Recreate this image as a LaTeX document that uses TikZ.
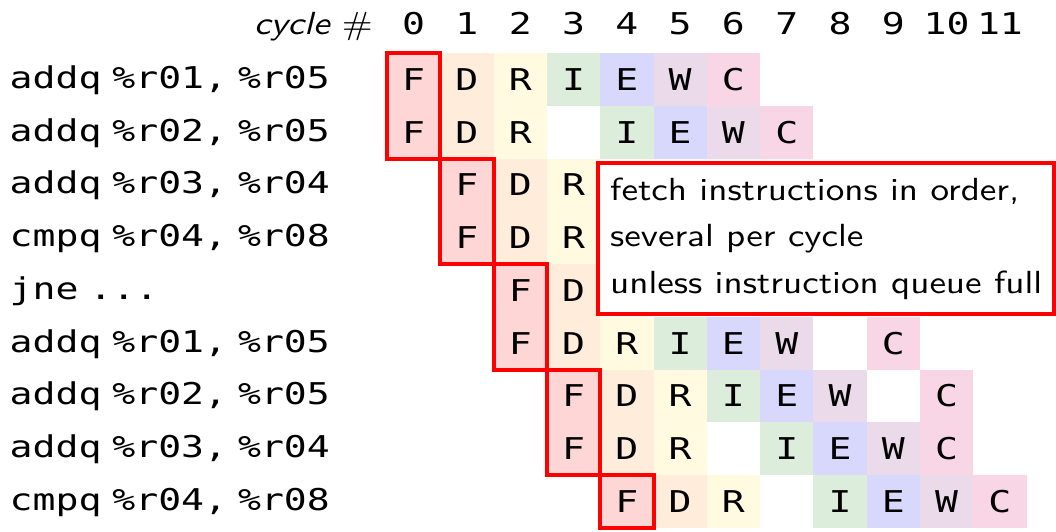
\documentclass[tikz,border=0pt]{standalone}
\usepackage{fontspec}
\newfontfamily\mono[FakeStretch=1.27]{DejaVu Sans Mono}
\newfontfamily\lmss{lmsans10-regular.otf}[ItalicFont=lmsans10-oblique.otf, FakeStretch=1.16]
\definecolor{stF}{RGB}{255,214,214}
\definecolor{stD}{RGB}{255,236,218}
\definecolor{stR}{RGB}{255,250,224}
\definecolor{stI}{RGB}{220,237,220}
\definecolor{stE}{RGB}{216,216,252}
\definecolor{stW}{RGB}{234,218,234}
\definecolor{stC}{RGB}{249,214,230}
\newcommand\monofont{\mono\fontsize{30}{36}\selectfont}
\newcommand\sansfont{\lmss\fontsize{32}{38}\selectfont}
\newcommand\isp{\hspace{11pt}}
\begin{document}
\begin{tikzpicture}[x=1pt,y=-1pt,
  cell/.style={minimum width=53.3pt, minimum height=52.75pt, inner sep=0pt, outer sep=0pt, font=\monofont},
  hdr/.style={anchor=base, inner sep=0pt, font=\monofont},
  instr/.style={anchor=base west, inner sep=0pt, font=\monofont},
  fetchbox/.style={draw=red, line width=4pt},
  note/.style={draw=red, line width=4pt, fill=white, minimum width=456pt, minimum height=151pt, inner sep=0pt},
  notetext/.style={anchor=base west, inner sep=0pt, font=\sansfont}]
\useasboundingbox (0,0) rectangle (1056,531);
% header
\node[anchor=base east, inner sep=0pt, font=\sansfont] (cyc) at (373,34) {\itshape cycle\ \upshape\#};
\foreach \c in {0,...,11} \node[hdr] (h\c) at ({413.65+53.3*\c},34) {\c};
% instructions
\foreach \r/\t in {0/{addq\isp\%r01,\isp\%r05}, 1/{addq\isp\%r02,\isp\%r05}, 2/{addq\isp\%r03,\isp\%r04},
  3/{cmpq\isp\%r04,\isp\%r08}, 4/{jne\isp...}, 5/{addq\isp\%r01,\isp\%r05}, 6/{addq\isp\%r02,\isp\%r05},
  7/{addq\isp\%r03,\isp\%r04}, 8/{cmpq\isp\%r04,\isp\%r08}}
  \node[instr] (i\r) at (9.5,{88.4+52.75*\r}) {\t};
% pipeline cells
\foreach \r/\spec in {
  0/{0/F,1/D,2/R,3/I,4/E,5/W,6/C},
  1/{0/F,1/D,2/R,4/I,5/E,6/W,7/C},
  2/{1/F,2/D,3/R},
  3/{1/F,2/D,3/R},
  4/{2/F,3/D},
  5/{2/F,3/D,4/R,5/I,6/E,7/W,9/C},
  6/{3/F,4/D,5/R,6/I,7/E,8/W,10/C},
  7/{3/F,4/D,5/R,7/I,8/E,9/W,10/C},
  8/{4/F,5/D,6/R,8/I,9/E,10/W,11/C}}
  \foreach \c/\L in \spec
    \node[cell, fill=st\L] (n\r-\c) at ({413.65+53.3*\c},{79.375+52.75*\r}) {\L};
% fetch groups
\draw[fetchbox] (n0-0.north west) rectangle (n1-0.south east);
\draw[fetchbox] (n2-1.north west) rectangle (n3-1.south east);
\draw[fetchbox] (n4-2.north west) rectangle (n5-2.south east);
\draw[fetchbox] (n6-3.north west) rectangle (n7-3.south east);
\draw[fetchbox] (n8-4.north west) rectangle (n8-4.south east);
% annotation
\node[note] (note) at (826,238.5) {};
\node[notetext] (t1) at (610,200) {fetch instructions in order,};
\node[notetext] (t2) at (610,246.5) {several per cycle};
\node[notetext] (t3) at (610,293) {unless instruction queue full};
\end{tikzpicture}
\end{document}
